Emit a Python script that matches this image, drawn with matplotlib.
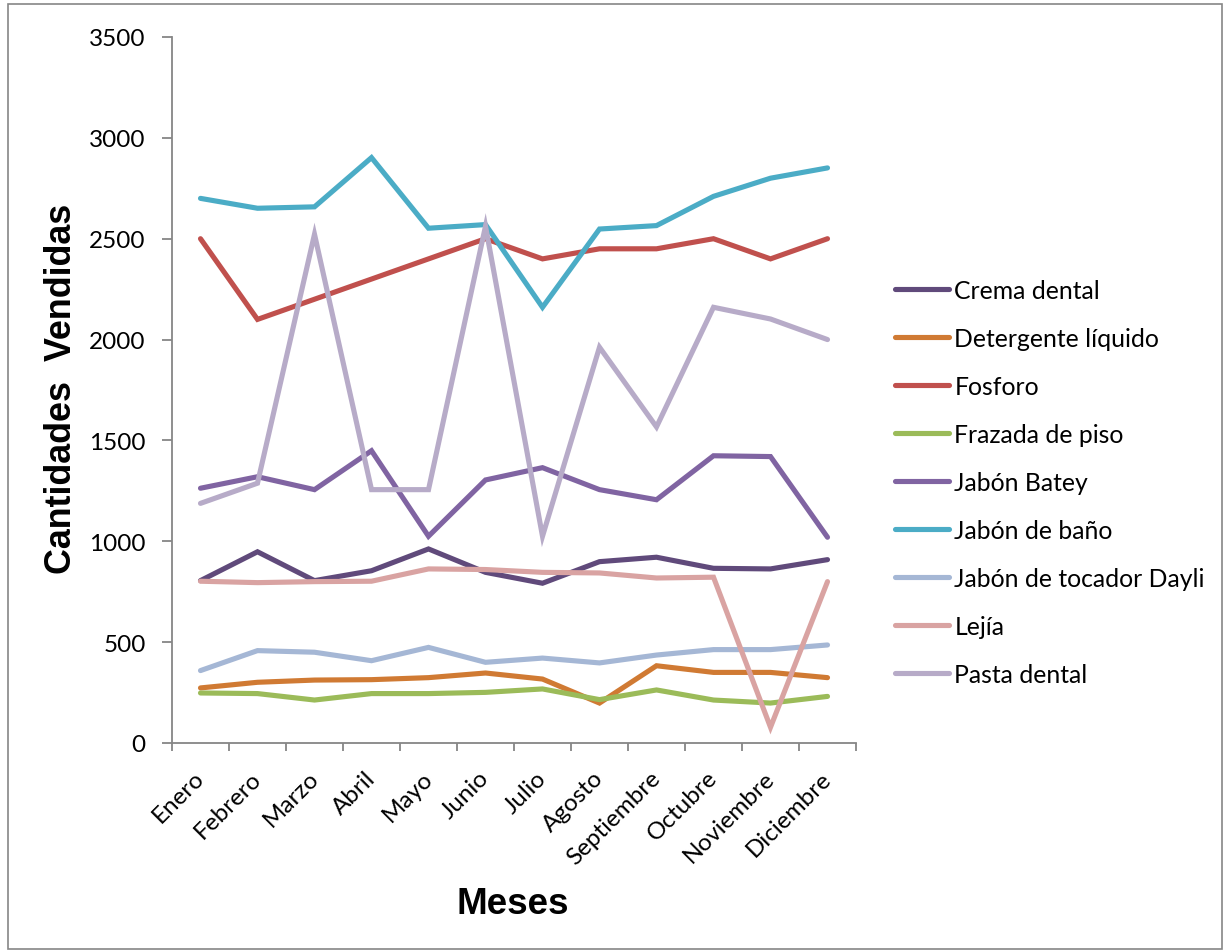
import matplotlib
matplotlib.use("Agg")
import matplotlib.pyplot as plt
from matplotlib.patches import Rectangle
from matplotlib.transforms import ScaledTranslation

meses = ["Enero", "Febrero", "Marzo", "Abril", "Mayo", "Junio", "Julio",
         "Agosto", "Septiembre", "Octubre", "Noviembre", "Diciembre"]

crema_dental = [805, 948, 805, 854, 962, 846, 792, 899, 921, 866, 863, 909]
detergente_liquido = [273, 301, 312, 314, 324, 347, 317, 198, 383, 350, 350, 324]
fosforo = [2500, 2100, 2200, 2300, 2400, 2500, 2400, 2450, 2450, 2500, 2400, 2500]
frazada_de_piso = [248, 245, 213, 245, 245, 251, 268, 215, 263, 213, 198, 231]
jabon_batey = [1263, 1320, 1256, 1449, 1025, 1304, 1365, 1256, 1206, 1424, 1420, 1020]
jabon_de_bano = [2700, 2651, 2658, 2902, 2552, 2570, 2160, 2548, 2565, 2710, 2800, 2851]
jabon_tocador_dayli = [359, 458, 450, 408, 474, 400, 421, 397, 436, 463, 463, 486]
lejia = [802, 795, 800, 802, 863, 860, 846, 843, 818, 822, 78, 800]
pasta_dental = [1188, 1288, 2522, 1256, 1256, 2562, 1025, 1962, 1567, 2160, 2102, 2000]

series_names = ["Crema dental", "Detergente líquido", "Fosforo", "Frazada de piso",
                "Jabón Batey", "Jabón de baño", "Jabón de tocador Dayli", "Lejía",
                "Pasta dental"]
series_values = [crema_dental, detergente_liquido, fosforo, frazada_de_piso,
                 jabon_batey, jabon_de_bano, jabon_tocador_dayli, lejia, pasta_dental]
colors = ["#604A7B", "#D07A33", "#C0504D", "#9BBB59", "#8064A2", "#4BACC6",
          "#A5B7D5", "#D9A3A2", "#B7ABC8"]

yticks = [0, 500, 1000, 1500, 2000, 2500, 3000, 3500]

W, H = 1230, 953
fig = plt.figure(figsize=(W / 100, H / 100), dpi=100)
ax = fig.add_axes([172 / W, 1 - 744 / H, (856 - 172) / W, (744 - 38) / H])

x = list(range(len(meses)))
for name, vals, c in zip(series_names, series_values, colors):
    ax.plot(x, vals, color=c, lw=3.7, label=name, solid_joinstyle="miter",
            solid_capstyle="round")

ax.set_xlim(-0.5, len(meses) - 0.5)
ax.set_ylim(0, 3500)
ax.set_yticks(yticks)
ax.set_yticklabels([str(v) for v in yticks], fontfamily="Lato", fontsize=17.5)
ax.set_xticks(x)
ax.set_xticks([i - 0.5 for i in range(len(meses) + 1)], minor=True)
ax.tick_params(axis="x", which="major", length=0, pad=10)
ax.tick_params(axis="x", which="minor", length=6, width=1.3, color="#868686")
ax.tick_params(axis="y", length=7, width=1.3, color="#868686", pad=12)
ax.set_xticklabels(meses, rotation=45, ha="right", rotation_mode="anchor",
                   fontfamily="Lato", fontsize=17.5)
offset = ScaledTranslation(-0.07, -0.10, fig.dpi_scale_trans)
for lbl in ax.get_xticklabels():
    lbl.set_transform(lbl.get_transform() + offset)

for s in ["top", "right"]:
    ax.spines[s].set_visible(False)
for s in ["left", "bottom"]:
    ax.spines[s].set_color("#868686")
    ax.spines[s].set_linewidth(1.3)

fig.text(62 / W, 1 - 389 / H, "Cantidades  Vendidas", rotation=90,
         fontfamily="Liberation Sans", fontweight="bold", fontsize=25.8,
         ha="center", va="center")
fig.text(513 / W, 1 - 905 / H, "Meses", fontfamily="Liberation Sans",
         fontweight="bold", fontsize=26.5, ha="center", va="center")

leg = fig.legend(loc="upper left", bbox_to_anchor=(895 / W, 1 - 280 / H),
                 frameon=False, prop={"family": "Lato", "size": 17.8},
                 handlelength=2.2, handletextpad=0.2, labelspacing=1.01,
                 borderpad=0, borderaxespad=0)

fig.patches.append(Rectangle((8 / W, 3 / H), (1222 - 8) / W, (948 - 3) / H,
                             transform=fig.transFigure, fill=False,
                             edgecolor="#868686", lw=1.2))

fig.savefig("out.png", dpi=100)
